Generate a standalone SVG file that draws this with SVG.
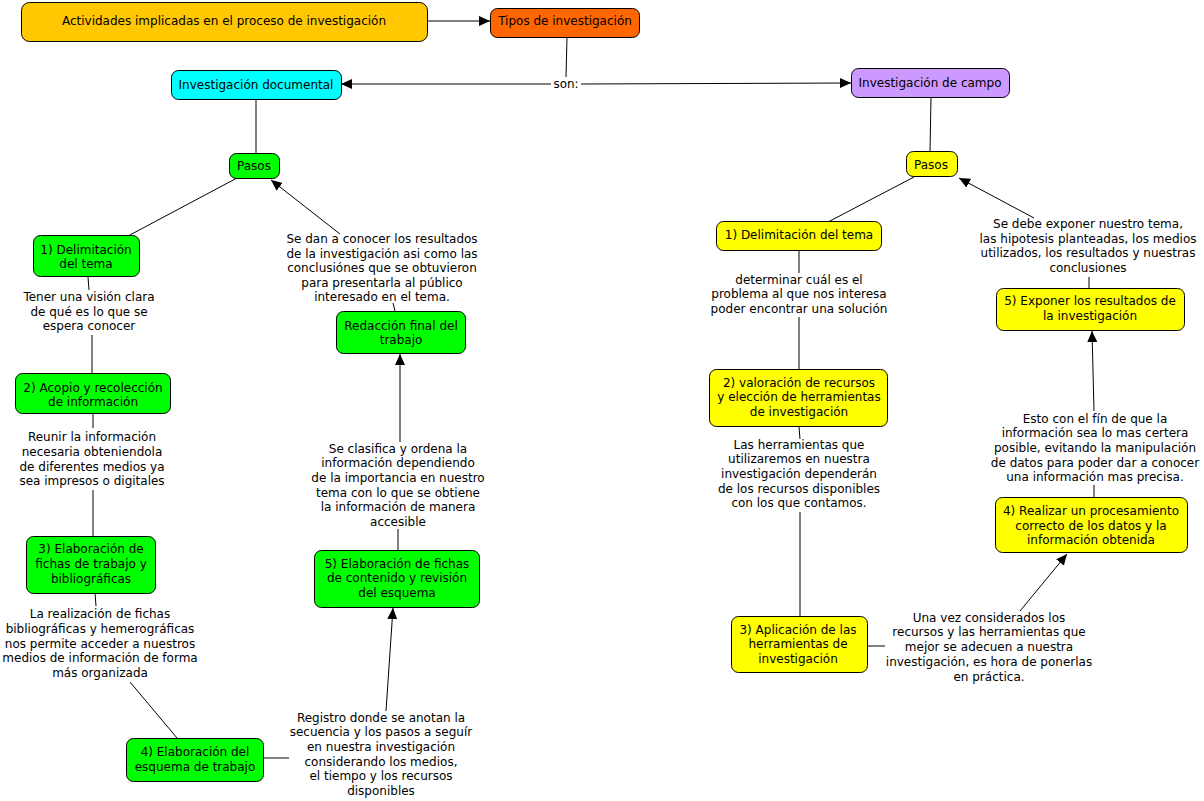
<svg xmlns="http://www.w3.org/2000/svg" width="1204" height="801" viewBox="0 0 1204 801">
<style>
.t{font-family:"DejaVu Sans",Verdana,sans-serif;font-size:12px;text-anchor:middle;fill:#000}
.b{stroke:#000;stroke-width:1}
.ln{stroke:#000;stroke-width:1;fill:none}
.arr{stroke:#000;stroke-width:1;fill:none;marker-end:url(#ah)}
</style>
<defs>
<marker id="ah" markerUnits="userSpaceOnUse" markerWidth="12" markerHeight="10" refX="11" refY="5" orient="auto">
<path d="M0,0 L11,5 L0,10 Z" fill="#000"/>
</marker>
</defs>
<rect width="1204" height="801" fill="#fff"/>
<g id="connectors">
<line class="arr" x1="427" y1="21" x2="490" y2="21"/>
<line class="ln" x1="567" y1="37" x2="566" y2="77"/>
<line class="arr" x1="551" y1="84" x2="341" y2="84"/>
<line class="arr" x1="581" y1="84" x2="851" y2="83"/>
<line class="ln" x1="256" y1="99" x2="256" y2="153"/>
<line class="ln" x1="237" y1="178" x2="128" y2="236"/>
<line class="arr" x1="340" y1="234" x2="271" y2="180"/>
<line class="ln" x1="88" y1="277" x2="89" y2="290"/>
<line class="ln" x1="92" y1="335" x2="92" y2="373"/>
<line class="ln" x1="93" y1="414" x2="93" y2="428"/>
<line class="ln" x1="93" y1="490" x2="93" y2="537"/>
<line class="ln" x1="95" y1="593" x2="96" y2="606"/>
<line class="ln" x1="130" y1="682" x2="177" y2="738"/>
<line class="ln" x1="263" y1="758" x2="289" y2="758"/>
<line class="arr" x1="386" y1="711" x2="393" y2="608"/>
<line class="ln" x1="398" y1="550" x2="398" y2="529"/>
<line class="arr" x1="400" y1="442" x2="400" y2="354"/>
<line class="ln" x1="395" y1="311" x2="393" y2="303"/>
<line class="ln" x1="931" y1="97" x2="930" y2="152"/>
<line class="ln" x1="914" y1="177" x2="828" y2="222"/>
<line class="arr" x1="1034" y1="218" x2="959" y2="178"/>
<line class="ln" x1="799" y1="250" x2="799" y2="273"/>
<line class="ln" x1="799" y1="317" x2="799" y2="369"/>
<line class="ln" x1="799" y1="427" x2="800" y2="439"/>
<line class="ln" x1="800" y1="512" x2="800" y2="616"/>
<line class="ln" x1="868" y1="646" x2="885" y2="646"/>
<line class="arr" x1="1020" y1="611" x2="1067" y2="554"/>
<line class="ln" x1="1094" y1="497" x2="1094" y2="485"/>
<line class="arr" x1="1094" y1="411" x2="1092" y2="331"/>
<line class="ln" x1="1089" y1="288" x2="1089" y2="277"/>
</g>
<g id="n-actividades"><rect class="b" x="21.5" y="2.5" width="406" height="39" rx="8" fill="#FFC800"/><text class="t" x="224" y="25">Actividades implicadas en el proceso de investigación</text></g>
<g id="n-tipos"><rect class="b" x="490.5" y="8.5" width="149" height="29" rx="7" fill="#FF6600"/><text class="t" x="565" y="25">Tipos de investigación</text></g>
<g id="l-son"><text class="t" x="566" y="88">son:</text></g>
<g id="n-documental"><rect class="b" x="171.5" y="70.5" width="170" height="29" rx="7" fill="#00FFFF"/><text class="t" x="256" y="89">Investigación documental</text></g>
<g id="n-pasos-doc"><rect class="b" x="229.5" y="153.5" width="50" height="25" rx="7" fill="#00FF00"/><text class="t" x="254" y="170">Pasos</text></g>
<g id="n-d1"><rect class="b" x="33.5" y="235.5" width="106" height="41" rx="7" fill="#00FF00"/><text class="t"><tspan x="86" y="254">1) Delimitación</tspan><tspan x="86" y="268">del tema</tspan></text></g>
<g id="l-d1"><text class="t"><tspan x="89" y="301">Tener una visión clara</tspan><tspan x="89" y="316">de qué es lo que se</tspan><tspan x="89" y="330">espera conocer</tspan></text></g>
<g id="n-d2"><rect class="b" x="15.5" y="373.5" width="155" height="40" rx="7" fill="#00FF00"/><text class="t"><tspan x="93" y="392">2) Acopio y recolección</tspan><tspan x="93" y="406">de información</tspan></text></g>
<g id="l-d2"><text class="t"><tspan x="92" y="441">Reunir la información</tspan><tspan x="92" y="456">necesaria obteniendola</tspan><tspan x="92" y="471">de diferentes medios ya</tspan><tspan x="92" y="485">sea impresos o digitales</tspan></text></g>
<g id="n-d3"><rect class="b" x="26.5" y="536.5" width="129" height="57" rx="7" fill="#00FF00"/><text class="t"><tspan x="91" y="553">3) Elaboración de</tspan><tspan x="91" y="568">fichas de trabajo y</tspan><tspan x="91" y="583">bibliográficas</tspan></text></g>
<g id="l-d3"><text class="t"><tspan x="100" y="618">La realización de fichas</tspan><tspan x="100" y="633">bibliográficas y hemerográficas</tspan><tspan x="100" y="648">nos permite acceder a nuestros</tspan><tspan x="100" y="662">medios de información de forma</tspan><tspan x="100" y="677">más organizada</tspan></text></g>
<g id="n-d4"><rect class="b" x="126.5" y="738.5" width="137" height="43" rx="7" fill="#00FF00"/><text class="t"><tspan x="195" y="756">4) Elaboración del</tspan><tspan x="195" y="771">esquema de trabajo</tspan></text></g>
<g id="l-d4"><text class="t"><tspan x="381" y="722">Registro donde se anotan la</tspan><tspan x="381" y="736">secuencia y los pasos a seguír</tspan><tspan x="381" y="751">en nuestra investigación</tspan><tspan x="381" y="766">considerando los medios,</tspan><tspan x="381" y="780">el tiempo y los recursos</tspan><tspan x="381" y="795">disponibles</tspan></text></g>
<g id="n-d5"><rect class="b" x="314.5" y="550.5" width="165" height="57" rx="7" fill="#00FF00"/><text class="t"><tspan x="397" y="568">5) Elaboración de fichas</tspan><tspan x="397" y="582">de contenido y revisión</tspan><tspan x="397" y="597">del esquema</tspan></text></g>
<g id="l-d5"><text class="t"><tspan x="398" y="453">Se clasifica y ordena la</tspan><tspan x="398" y="467">información dependiendo</tspan><tspan x="398" y="482">de la importancia en nuestro</tspan><tspan x="398" y="497">tema con lo que se obtiene</tspan><tspan x="398" y="511">la información de manera</tspan><tspan x="398" y="526">accesible</tspan></text></g>
<g id="n-d6"><rect class="b" x="336.5" y="311.5" width="129" height="42" rx="7" fill="#00FF00"/><text class="t"><tspan x="401" y="330">Redacción final del</tspan><tspan x="401" y="344">trabajo</tspan></text></g>
<g id="l-d6"><text class="t"><tspan x="382" y="243">Se dan a conocer los resultados</tspan><tspan x="382" y="258">de la investigación asi como las</tspan><tspan x="382" y="272">conclusiónes que se obtuvieron</tspan><tspan x="382" y="287">para presentarla al público</tspan><tspan x="382" y="301">interesado en el tema.</tspan></text></g>
<g id="n-campo"><rect class="b" x="851.5" y="68.5" width="158" height="29" rx="7" fill="#CC99FF"/><text class="t" x="930" y="87">Investigación de campo</text></g>
<g id="n-pasos-campo"><rect class="b" x="906.5" y="151.5" width="51" height="25" rx="7" fill="#FFFF00"/><text class="t" x="931" y="169">Pasos</text></g>
<g id="n-c1"><rect class="b" x="716.5" y="221.5" width="165" height="29" rx="7" fill="#FFFF00"/><text class="t" x="799" y="239">1) Delimitación del tema</text></g>
<g id="l-c1"><text class="t"><tspan x="799" y="284">determinar cuál es el</tspan><tspan x="799" y="298">problema al que nos interesa</tspan><tspan x="799" y="313">poder encontrar una solución</tspan></text></g>
<g id="n-c2"><rect class="b" x="709.5" y="369.5" width="178" height="57" rx="7" fill="#FFFF00"/><text class="t"><tspan x="799" y="387">2) valoración de recursos</tspan><tspan x="799" y="401">y elección de herramientas</tspan><tspan x="799" y="416">de investigación</tspan></text></g>
<g id="l-c2"><text class="t"><tspan x="799" y="449">Las herramientas que</tspan><tspan x="799" y="463">utilizaremos en nuestra</tspan><tspan x="799" y="478">investigación dependerán</tspan><tspan x="799" y="493">de los recursos disponibles</tspan><tspan x="799" y="507">con los que contamos.</tspan></text></g>
<g id="n-c3"><rect class="b" x="731.5" y="616.5" width="136" height="56" rx="7" fill="#FFFF00"/><text class="t"><tspan x="798" y="634">3) Aplicación de las</tspan><tspan x="798" y="648">herramientas de</tspan><tspan x="798" y="663">investigación</tspan></text></g>
<g id="l-c3"><text class="t"><tspan x="989" y="622">Una vez considerados los</tspan><tspan x="989" y="636">recursos y las herramientas que</tspan><tspan x="989" y="651">mejor se adecuen a nuestra</tspan><tspan x="989" y="666">investigación, es hora de ponerlas</tspan><tspan x="989" y="681">en práctica.</tspan></text></g>
<g id="n-c4"><rect class="b" x="995.5" y="497.5" width="192" height="55" rx="7" fill="#FFFF00"/><text class="t"><tspan x="1091" y="515">4) Realizar un procesamiento</tspan><tspan x="1091" y="530">correcto de los datos y la</tspan><tspan x="1091" y="544">información obtenida</tspan></text></g>
<g id="l-c4"><text class="t"><tspan x="1095" y="423">Esto con el fín de que la</tspan><tspan x="1095" y="437">información sea lo mas certera</tspan><tspan x="1095" y="452">posible, evitando la manipulación</tspan><tspan x="1095" y="467">de datos para poder dar a conocer</tspan><tspan x="1095" y="481">una información mas precisa.</tspan></text></g>
<g id="n-c5"><rect class="b" x="996.5" y="288.5" width="188" height="42" rx="7" fill="#FFFF00"/><text class="t"><tspan x="1090" y="305">5) Exponer los resultados de</tspan><tspan x="1090" y="320">la investigación</tspan></text></g>
<g id="l-c5"><text class="t"><tspan x="1088" y="228">Se debe exponer nuestro tema,</tspan><tspan x="1088" y="243">las hipotesis planteadas, los medios</tspan><tspan x="1088" y="257">utilizados, los resultados y nuestras</tspan><tspan x="1088" y="272">conclusiones</tspan></text></g>
</svg>
